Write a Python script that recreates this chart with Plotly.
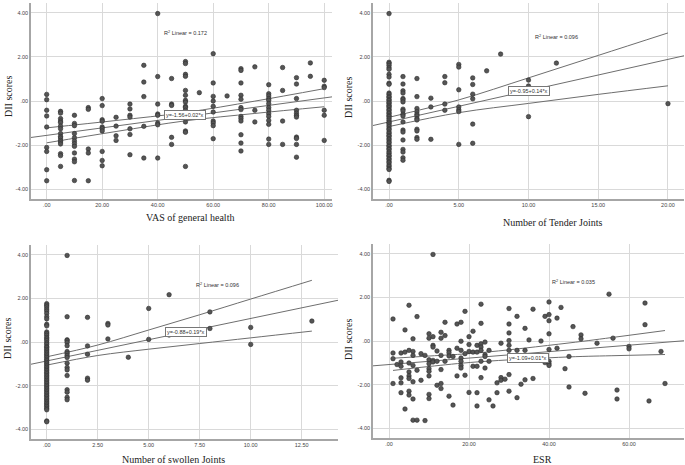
import plotly.graph_objects as go

# ---- panel 1: VAS of general health ----
vas_levels = [0, 5, 10, 15, 20, 25, 30, 35, 40, 45, 50, 55, 60, 65, 70, 75, 80, 85, 90, 95, 100]
vas_dii = [
    [0.30, 0.06, -0.42, -0.68, -1.18, -2.11, -2.29, -3.12, -3.62],
    [-0.47, -0.55, -0.80, -0.91, -0.98, -1.14, -1.26, -1.48, -1.61, -1.68, -1.79, -1.86, -1.95, -2.39, -2.48, -2.97],
    [-0.65, -1.02, -1.12, -1.48, -1.67, -1.82, -1.94, -2.06, -2.36, -2.64, -2.76, -3.61],
    [-0.30, -0.38, -2.18, -2.36, -3.62],
    [0.11, -0.21, -0.85, -0.92, -1.18, -1.26, -1.36, -2.29, -2.70, -2.94],
    [-0.74, -1.14, -1.58, -1.79],
    [-0.14, -0.36, -0.65, -0.73, -1.26, -1.52, -2.44],
    [1.62, 0.86, 0.20, -1.15, -2.59],
    [3.97, 1.11, -0.14, -0.59, -0.65, -1.00, -1.08, -2.59],
    [1.02, -0.14, -0.20, -0.55, -0.71, -1.65, -1.97],
    [1.79, 1.70, 1.21, 1.12, 0.48, 0.26, 0.03, -0.05, -0.24, -0.30, -0.42, -0.65, -0.95, -1.36, -1.42, -2.97],
    [0.38, -0.73],
    [2.15, 0.82, 0.21, 0.00, -0.24, -0.50, -0.91, -1.00, -1.12, -1.71],
    [0.23],
    [1.47, 1.39, 0.82, 0.26, 0.08, -0.30, -0.39, -0.70, -0.80, -0.91, -1.53, -1.91, -2.27],
    [1.55, -0.42, -0.95],
    [0.74, 0.33, 0.23, 0.11, 0.03, -0.12, -0.30, -0.42, -0.58, -0.70, -0.88, -1.06, -1.73, -1.97],
    [1.52, 0.48, -0.91, -1.97],
    [1.06, 0.77, 0.11, -0.42, -0.55, -0.65, -0.73, -1.64, -1.70, -1.97, -2.55],
    [1.73, 1.12],
    [0.94, 0.67, 0.61, -0.42, -0.65, -1.79],
]
vas_fit = (-1.56, 0.017)
vas_band_x = [0, 25, 50, 75, 100]
vas_band_hi = [-1.22, -0.885, -0.52, -0.005, 0.56]
vas_band_lo = [-1.90, -1.385, -0.90, -0.565, -0.26]

# ---- panel 2: Number of Tender Joints ----
tj_levels = [0, 1, 2, 3, 4, 5, 6, 7, 8, 10, 12, 20]
tj_dii = [
    [3.97, 1.76, 1.70, 1.62, 1.51, 1.44, 1.21, 1.09, 0.81, 0.76, 0.36, 0.30, 0.21, 0.16, 0.07, 0.02,
     -0.06, -0.11, -0.19, -0.24, -0.31, -0.39, -0.44, -0.53, -0.58, -0.66, -0.71, -0.79, -0.87, -0.96,
     -1.01, -1.09, -1.17, -1.26, -1.31, -1.41, -1.47, -1.56, -1.61, -1.71, -1.77, -1.86, -1.91, -2.01,
     -2.07, -2.16, -2.21, -2.31, -2.37, -2.46, -2.51, -2.61, -2.67, -2.76, -2.81, -2.91, -2.97, -3.06,
     -3.11, -3.60, -3.65],
    [1.11, 0.77, 0.46, 0.36, 0.11, 0.05, -0.04, -0.37, -0.45, -0.60, -0.68, -0.95, -1.32, -1.41, -1.77, -2.20, -2.32, -2.58, -2.69],
    [1.02, 0.20, -0.34, -0.49, -0.60, -0.68, -0.80, -0.86, -1.28, -1.36, -1.66, -1.74],
    [0.13, -0.27, -1.74],
    [1.11, 0.83, -0.14, -0.42],
    [1.66, 1.54, 0.51, -0.27, -0.40, -0.48, -1.97],
    [1.05, 0.75, 0.31, 0.10, -1.05, -1.92],
    [1.37],
    [2.13],
    [0.95, 0.68, -0.71],
    [1.72],
    [-0.12],
]
tj_fit = (-0.95, 0.142)
tj_band_x = [0, 5, 10, 15, 20]
tj_band_hi = [-0.74, 0.05, 1.05, 2.07, 3.09]
tj_band_lo = [-1.16, -0.53, -0.11, 0.30, 0.69]

# ---- panel 3: Number of swollen Joints ----
sj_levels = [0, 1, 2, 3, 4, 5, 6, 8, 10, 13]
sj_dii = [
    [1.76, 1.69, 1.61, 1.51, 1.42, 1.31, 1.16, 1.06, 0.81, 0.74, 0.46, 0.39, 0.31, 0.21, 0.14, 0.06,
     -0.04, -0.11, -0.21, -0.26, -0.34, -0.41, -0.49, -0.56, -0.64, -0.71, -0.79, -0.86, -0.94, -1.01,
     -1.09, -1.16, -1.24, -1.31, -1.39, -1.46, -1.54, -1.61, -1.69, -1.76, -1.84, -1.91, -1.99, -2.06,
     -2.14, -2.21, -2.29, -2.36, -2.44, -2.51, -2.59, -2.66, -2.74, -2.81, -2.89, -2.96, -3.04, -3.11,
     -3.62, -3.66],
    [3.97, 1.16, 0.10, 0.06, -0.02, -0.17, -0.44, -0.52, -0.62, -0.71, -0.97, -1.17, -1.28, -1.54, -2.19, -2.30, -2.54, -2.65],
    [1.13, -0.18, -0.56, -1.66, -1.75],
    [0.85, 0.78, 0.14],
    [-0.70],
    [1.54, 0.12],
    [2.17, 0.32],
    [1.38, 0.62],
    [0.67, -0.11],
    [0.96],
]
sj_fit = (-0.87, 0.195)
sj_band_x = [0, 2.5, 5, 7.5, 10, 13]
sj_band_hi = [-0.68, -0.14, 0.55, 1.25, 1.97, 2.83]
sj_band_lo = [-1.06, -0.62, -0.33, -0.07, 0.19, 0.50]

# ---- panel 4: ESR ----
esr_x = [1, 1, 1, 1, 2, 3, 3, 3, 3, 3, 3, 4, 4, 4, 5, 5, 5, 5, 5, 5, 5, 5,
         6, 6, 6, 6, 6, 6, 6, 7, 7, 7, 8, 8, 9, 9, 10, 10, 10, 10, 10, 10, 10, 10, 10,
         11, 11, 11, 11, 11, 11, 12, 12, 12, 13, 13, 13, 13, 13, 13, 14, 14, 14,
         15, 15, 15, 15, 16, 16, 17, 17, 17, 18, 18, 18, 18, 18, 18, 18, 19, 19, 19,
         20, 20, 20, 20, 21, 21, 21, 22, 22, 22, 22, 22, 23, 23, 23, 23, 23, 23, 23,
         24, 24, 24, 24, 25, 25, 25, 26, 27, 27, 28, 28, 28, 29,
         30, 30, 30, 30, 30, 30, 30, 30, 32, 32, 32, 33, 34, 34, 34, 34, 35, 36, 36,
         38, 39, 39, 40, 40, 40, 40, 40, 40, 40, 40, 42, 42, 43, 44, 45, 45, 46,
         48, 48, 49, 52, 55, 56, 57, 57, 60, 60, 64, 64, 65, 68, 69]
esr_dii = [1.01, -0.55, -0.81, -1.95, -1.08, -0.55, -0.96, -1.16, -1.69, -1.92, -2.37, 0.51, -0.51, -3.12,
           1.64, -0.43, -1.01, -1.42, -1.60, -1.72, -2.30, -2.48,
           0.10, -0.48, -0.66, -1.12, -1.87, -2.66, -3.63, 1.12, -1.34, -3.63, -0.58, -1.80, -0.66, -3.65,
           0.33, 0.13, -0.86, -1.04, -1.27, -1.39, -1.60, -2.45, -2.64,
           3.97, 0.20, -0.20, -0.28, -0.89, -0.96, -0.46, -0.93, -2.03, 0.40, 0.13, -0.66, -1.31, -1.95, -2.18,
           0.86, 0.25, -0.93,
           -0.43, -0.54, -0.69, -2.53, -0.71, -2.94, 0.78, -0.33, -1.60, 0.86, -0.01, -0.43, -0.78, -0.93, -1.12, -1.24,
           1.36, -0.58, -1.57,
           0.20, -0.16, -0.48, -2.36, 0.45, -0.51, -1.16, -0.20, -0.51, -1.16, -2.37, -2.98,
           1.69, 0.81, -0.13, -0.28, -0.43, -0.93, -1.68,
           -0.05, -0.63, -0.71, -1.24, -0.43, -0.93, -2.70, -2.98, -1.92, -2.37, -0.10, -1.68, -1.80, -1.75,
           1.49, 0.78, 0.37, 0.02, -0.20, -0.43, -1.54, -2.30, 1.13, -0.43, -2.60, -1.98, 0.58, -0.43, -0.89, -1.78,
           0.05, 1.46, -1.72,
           0.00, 1.13, -0.99, 1.79, 1.21, 0.93, 0.33, -0.39, -0.93, -1.04, -1.12, 1.05, -0.33, 1.54, -1.27,
           -0.71, -2.11, 0.66,
           0.28, 0.10, -2.40, -0.10, 2.15, 0.13, -2.25, -2.66, -0.25, -0.36, 1.74, 0.75, -2.75, -0.48, -1.95]
esr_fit = (-1.08, 0.0148)
esr_band_x = [1, 10, 22, 45, 57, 69]
esr_band_hi = [-0.79, -0.69, -0.55, -0.09, 0.19, 0.48]
esr_band_lo = [-1.35, -1.17, -0.96, -0.73, -0.67, -0.62]

dii_ticks = [-4, -2, 0, 2, 4]
dii_labels = ["-4.00", "-2.00", ".00", "2.00", "4.00"]


def expand(levels, groups):
    xs, ys = [], []
    for lv, vals in zip(levels, groups):
        xs += [lv] * len(vals)
        ys += vals
    return xs, ys


panels = [
    dict(x=expand(vas_levels, vas_dii)[0], y=expand(vas_levels, vas_dii)[1], fit=vas_fit,
         bx=vas_band_x, bhi=vas_band_hi, blo=vas_band_lo, xr=[-5.65, 102.8],
         xt=[0, 20, 40, 60, 80, 100], xl=[".00", "20.00", "40.00", "60.00", "80.00", "100.00"],
         r2="R<sup>2</sup> Linear = 0.172", r2pos=(50, 3.1), eq="y=-1.56+0.02*x", eqpos=(50, -0.62),
         dx=[31, 332], dy=[3, 199], title="VAS of general health", tpos=(190, 218), ypos=(8, 97)),
    dict(x=expand(tj_levels, tj_dii)[0], y=expand(tj_levels, tj_dii)[1], fit=tj_fit,
         bx=tj_band_x, bhi=tj_band_hi, blo=tj_band_lo, xr=[-1.15, 21.15],
         xt=[0, 5, 10, 15, 20], xl=[".00", "5.00", "10.00", "15.00", "20.00"],
         r2="R<sup>2</sup> Linear = 0.096", r2pos=(12, 2.9), eq="y=-0.95+0.14*x", eqpos=(10, 0.45),
         dx=[373, 684], dy=[3, 199], title="Number of Tender Joints", tpos=(552, 222), ypos=(348, 97)),
    dict(x=expand(sj_levels, sj_dii)[0], y=expand(sj_levels, sj_dii)[1], fit=sj_fit,
         bx=sj_band_x, bhi=sj_band_hi, blo=sj_band_lo, xr=[-0.77, 14.28],
         xt=[0, 2.5, 5, 7.5, 10, 12.5], xl=[".00", "2.50", "5.00", "7.50", "10.00", "12.50"],
         r2="R<sup>2</sup> Linear = 0.096", r2pos=(8.35, 2.62), eq="y=-0.88+0.19*x", eqpos=(6.83, 0.47),
         dx=[31, 338], dy=[245, 439], title="Number of swollen Joints", tpos=(173, 459), ypos=(7, 339)),
    dict(x=esr_x, y=esr_dii, fit=esr_fit,
         bx=esr_band_x, bhi=esr_band_hi, blo=esr_band_lo, xr=[-4, 73.75],
         xt=[0, 20, 40, 60], xl=[".00", "20.00", "40.00", "60.00"],
         r2="R<sup>2</sup> Linear = 0.035", r2pos=(46, 2.72), eq="y=-1.09+0.01*x", eqpos=(34.75, -0.78),
         dx=[373, 684], dy=[244, 438], title="ESR", tpos=(542, 459), ypos=(348, 339)),
]

W, H = 685, 465
line_col = "#6e6e6e"
fig = go.Figure()
annotations = []
for i, p in enumerate(panels, start=1):
    xa = "x" if i == 1 else f"x{i}"
    ya = "y" if i == 1 else f"y{i}"
    b0, b1 = p["fit"]
    fx = p["xr"]
    fig.add_trace(go.Scatter(x=fx, y=[b0 + b1 * v for v in fx], mode="lines",
                             line=dict(color=line_col, width=1), xaxis=xa, yaxis=ya))
    for band in (p["bhi"], p["blo"]):
        fig.add_trace(go.Scatter(x=p["bx"], y=band, mode="lines",
                                 line=dict(color=line_col, width=1, shape="spline"),
                                 xaxis=xa, yaxis=ya))
    fig.add_trace(go.Scatter(x=p["x"], y=p["y"], mode="markers",
                             marker=dict(size=4.5, color="#555555", line=dict(color="#2e2e2e", width=0.6)),
                             xaxis=xa, yaxis=ya))
    axis_common = dict(showline=True, linecolor="#a6a6a6", linewidth=1.5, showgrid=True,
                       gridcolor="#d9d9d9", gridwidth=1, zeroline=False, ticks="", automargin=False,
                       tickfont=dict(family="Liberation Sans", size=5.5, color="#444"))
    fig.update_layout({
        f"xaxis{'' if i == 1 else i}": dict(axis_common, domain=[p["dx"][0] / W, p["dx"][1] / W],
                                            range=p["xr"], tickvals=p["xt"], ticktext=p["xl"],
                                            anchor=ya),
        f"yaxis{'' if i == 1 else i}": dict(axis_common, domain=[1 - p["dy"][1] / H, 1 - p["dy"][0] / H],
                                            range=[-4.45, 4.45], tickvals=dii_ticks, ticktext=dii_labels,
                                            anchor=xa),
    })
    annotations.append(dict(x=p["r2pos"][0], y=p["r2pos"][1], xref=xa, yref=ya, text=p["r2"],
                            showarrow=False, font=dict(family="Liberation Sans", size=5.5, color="#333")))
    annotations.append(dict(x=p["eqpos"][0], y=p["eqpos"][1], xref=xa, yref=ya, text=p["eq"],
                            showarrow=False, bgcolor="white", bordercolor="#777", borderwidth=1,
                            borderpad=1, font=dict(family="Liberation Sans", size=5.5, color="#333")))
    annotations.append(dict(x=p["tpos"][0] / W, y=1 - p["tpos"][1] / H, xref="paper", yref="paper",
                            xanchor="center", yanchor="middle", text=p["title"], showarrow=False,
                            font=dict(family="Liberation Serif", size=10, color="#222")))
    annotations.append(dict(x=p["ypos"][0] / W, y=1 - p["ypos"][1] / H, xref="paper", yref="paper",
                            xanchor="center", yanchor="middle", text="DII scores", textangle=-90,
                            showarrow=False, font=dict(family="Liberation Serif", size=10, color="#222")))

fig.update_layout(template="none", width=W, height=H, margin=dict(l=0, r=0, t=0, b=0),
                  paper_bgcolor="white", plot_bgcolor="white", showlegend=False,
                  annotations=annotations)
# the page body has a default 8px margin; drop it so the figure fills the window
fig.write_html("out.html", config={"displayModeBar": False},
               post_script="document.body.style.margin='0';")
